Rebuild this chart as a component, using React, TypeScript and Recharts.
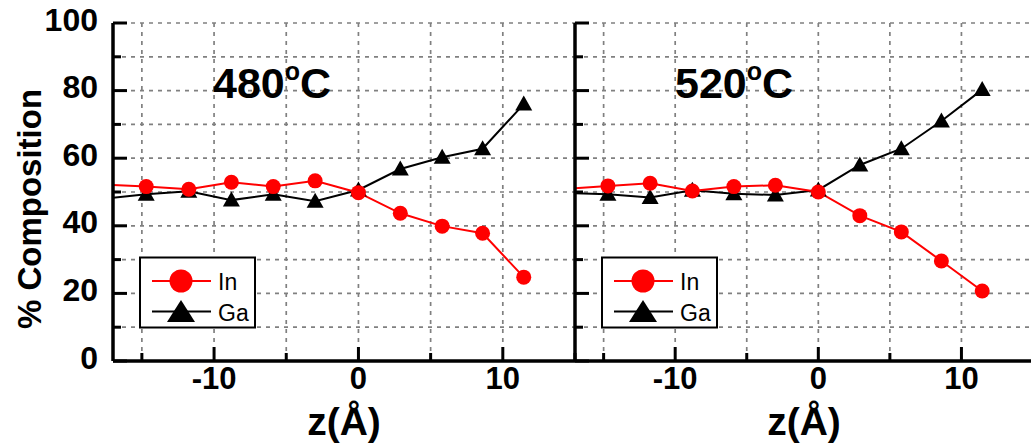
import React from "react";
import { LineChart, Line, XAxis, YAxis, CartesianGrid } from "recharts";

// depth positions (Å)
const Z = [-17.5, -14.7, -11.75, -8.8, -5.9, -3.0, 0, 2.9, 5.8, 8.6, 11.45];
// 480 °C
const IN_480 = [52.2, 51.6, 50.8, 52.9, 51.6, 53.3, 49.8, 43.7, 39.9, 37.8, 24.8];
const GA_480 = [48.1, 49.3, 50.2, 47.6, 49.3, 47.3, 50.6, 56.8, 60.3, 62.8, 76.0];
// 520 °C
const IN_520 = [51.0, 51.8, 52.6, 50.3, 51.6, 52.0, 50.0, 43.0, 38.2, 29.6, 20.7];
const GA_520 = [49.7, 49.3, 48.4, 50.5, 49.5, 49.1, 50.6, 58.0, 62.8, 71.0, 80.3];

const X_TICKS = [-15, -10, -5, 0, 5, 10, 15];
const Y_TICKS = [0, 10, 20, 30, 40, 50, 60, 70, 80, 90, 100];
const X_DOMAIN = [-17, 15];
const Y_DOMAIN = [0, 100];

const FONT = "'Liberation Sans', Arial, sans-serif";

const buildRows = (inV: number[], gaV: number[]) =>
  Z.map((z, i) => ({ z, inV: inV[i], ga: gaV[i] }));

const TICK_W = 3;
const AXIS = { stroke: "#000", strokeWidth: 3.5 };

const BottomTick = (showLabel: boolean) => (props: any) => {
  const { x, y, payload } = props;
  const v = payload.value;
  const major = v % 10 === 0;
  return (
    <g>
      <line x1={x} x2={x} y1={y} y2={y - (major ? 14 : 8)} stroke="#000" strokeWidth={TICK_W} />
      {showLabel && major && (
        <text x={x} y={y + 28} textAnchor="middle" fontFamily={FONT} fontWeight="bold" fontSize={31} fill="#000">
          {v}
        </text>
      )}
    </g>
  );
};

const TopTick = (props: any) => {
  const { x, y, payload } = props;
  const major = payload.value % 10 === 0;
  return <line x1={x} x2={x} y1={y} y2={y + (major ? 14 : 8)} stroke="#000" strokeWidth={TICK_W} />;
};

const LeftTick = (showLabel: boolean) => (props: any) => {
  const { x, y, payload } = props;
  const v = payload.value;
  const major = v % 20 === 0;
  return (
    <g>
      <line x1={x} x2={x + (major ? 14 : 8)} y1={y} y2={y} stroke="#000" strokeWidth={TICK_W} />
      {showLabel && major && (
        <text x={x - 15} y={y + 7.5} textAnchor="end" fontFamily={FONT} fontWeight="bold" fontSize={32} fill="#000">
          {v}
        </text>
      )}
    </g>
  );
};

const RightTick = (props: any) => {
  const { x, y, payload } = props;
  const major = payload.value % 20 === 0;
  return <line x1={x} x2={x - (major ? 14 : 8)} y1={y} y2={y} stroke="#000" strokeWidth={TICK_W} />;
};

const circleDot = (props: any) => {
  const { cx, cy, payload, index } = props;
  if (payload.z < X_DOMAIN[0]) return <g key={`c${index}`} />;
  return <circle key={`c${index}`} cx={cx} cy={cy} r={7.5} fill="#ff0000" />;
};

const triDot = (props: any) => {
  const { cx, cy, payload, index } = props;
  if (payload.z < X_DOMAIN[0]) return <g key={`t${index}`} />;
  const pts = `${cx},${cy - 8.5} ${cx + 8.5},${cy + 6.5} ${cx - 8.5},${cy + 6.5}`;
  return <polygon key={`t${index}`} points={pts} fill="#000" />;
};

const Panel = ({ left, rows, showYLabels, marginRight }: any) => (
  <div style={{ position: "absolute", left, top: 0 }}>
    <LineChart width={600} height={446} data={rows} margin={{ top: 23, right: marginRight, bottom: 0, left: 0 }}>
      <CartesianGrid stroke="#808080" strokeWidth={1.7} strokeDasharray="4 5" />
      <XAxis
        dataKey="z"
        type="number"
        domain={X_DOMAIN}
        allowDataOverflow
        ticks={X_TICKS}
        interval={0}
        height={85}
        tickSize={0}
        tickMargin={0}
        tickLine={false}
        axisLine={AXIS}
        tick={BottomTick(true)}
      />
      <XAxis
        xAxisId="top"
        orientation="top"
        dataKey="z"
        type="number"
        domain={X_DOMAIN}
        allowDataOverflow
        ticks={X_TICKS}
        interval={0}
        height={0}
        tickSize={0}
        tickMargin={0}
        tickLine={false}
        axisLine={AXIS}
        tick={TopTick}
      />
      <YAxis
        type="number"
        domain={Y_DOMAIN}
        ticks={Y_TICKS}
        interval={0}
        width={113}
        tickSize={0}
        tickMargin={0}
        tickLine={false}
        axisLine={AXIS}
        tick={LeftTick(showYLabels)}
      />
      <YAxis
        yAxisId="right"
        orientation="right"
        type="number"
        domain={Y_DOMAIN}
        ticks={Y_TICKS}
        interval={0}
        width={0}
        tickSize={0}
        tickMargin={0}
        tickLine={false}
        axisLine={AXIS}
        tick={RightTick}
      />
      <Line dataKey="ga" stroke="#000" strokeWidth={2} dot={triDot} isAnimationActive={false} />
      <Line dataKey="inV" stroke="#ff0000" strokeWidth={2} dot={circleDot} isAnimationActive={false} />
    </LineChart>
  </div>
);

const LegendBox = ({ ox }: { ox: number }) => (
  <g>
    <rect x={ox} y={257.5} width={115} height={70} fill="#fff" stroke="#000" strokeWidth={2} />
    <line x1={ox + 12} x2={ox + 71} y1={281} y2={281} stroke="#ff0000" strokeWidth={2} />
    <circle cx={ox + 41} cy={281} r={11.5} fill="#ff0000" />
    <text x={ox + 78} y={290} fontFamily={FONT} fontSize={23} fill="#000">In</text>
    <line x1={ox + 12} x2={ox + 71} y1={311.5} y2={311.5} stroke="#000" strokeWidth={2} />
    <polygon points={`${ox + 41},${300} ${ox + 55},${322} ${ox + 27},${322}`} fill="#000" />
    <text x={ox + 78} y={320.5} fontFamily={FONT} fontSize={23} fill="#000">Ga</text>
  </g>
);

const Title = ({ x, num }: { x: number; num: string }) => (
  <text x={x} y={98} fontFamily={FONT} fontWeight="bold" fontSize={43} fill="#000">
    {num}
    <tspan fontSize={25} dy={-18}>o</tspan>
    <tspan fontSize={43} dy={18}>C</tspan>
  </text>
);

export default function App() {
  return (
    <div style={{ position: "absolute", left: 0, top: 0, width: 1031, height: 446, overflow: "hidden", background: "#fff" }}>
      <Panel left={0} rows={buildRows(IN_480, GA_480)} showYLabels={true} marginRight={25} />
      <Panel left={462} rows={buildRows(IN_520, GA_520)} showYLabels={false} marginRight={29} />
      <svg width={1031} height={446} style={{ position: "absolute", left: 0, top: 0, pointerEvents: "none" }}>
        <Title x={213} num="480" />
        <Title x={675} num="520" />
        <LegendBox ox={140} />
        <LegendBox ox={602} />
        <text x={344} y={435} textAnchor="middle" fontFamily={FONT} fontWeight="bold" fontSize={39} fill="#000">z(Å)</text>
        <text x={804} y={435} textAnchor="middle" fontFamily={FONT} fontWeight="bold" fontSize={39} fill="#000">z(Å)</text>
        <text
          transform="translate(41,209) rotate(-90)"
          textAnchor="middle"
          fontFamily={FONT}
          fontWeight="bold"
          fontSize={33}
          fill="#000"
        >
          % Composition
        </text>
      </svg>
    </div>
  );
}
